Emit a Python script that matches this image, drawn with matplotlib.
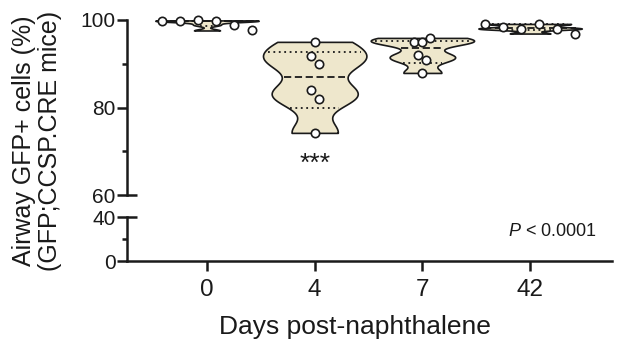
import numpy as np
import matplotlib
matplotlib.use("Agg")
import matplotlib.pyplot as plt
from matplotlib import cbook, mlab

plt.rcParams["font.family"] = ["Liberation Sans", "DejaVu Sans"]
plt.rcParams["mathtext.fontset"] = "custom"
plt.rcParams["mathtext.it"] = "Liberation Sans:italic"
plt.rcParams["mathtext.rm"] = "Liberation Sans"

# values, left-to-right within each group
days = ["0", "4", "7", "42"]
day0 = [99.8, 99.8, 99.9, 99.8, 98.9, 97.6]
day4 = [95.0, 91.8, 89.9, 84.0, 81.9, 74.2]
day7 = [95.0, 95.0, 95.9, 92.0, 90.9, 87.9]
day42 = [99.1, 98.3, 98.0, 99.1, 97.9, 96.9]
groups = [day0, day4, day7, day42]

FILL = "#EEE7CC"
INK = "#1a1a1a"
LW = 1.8
TICK = 7.2


def row_offsets(vals, ax, row_px=11, wide_px=18, tight_px=8):
    # prism-like point spreading: values within row_px pixels share a row
    to_py = lambda v: ax.transData.transform([(0, v)])[0, 1]
    px_per_x = ax.transData.transform([(1, 0)])[0, 0] - ax.transData.transform([(0, 0)])[0, 0]
    order = sorted(range(len(vals)), key=lambda i: -vals[i])
    rows = []
    for i in order:
        if rows and to_py(vals[rows[-1][0]]) - to_py(vals[i]) <= row_px:
            rows[-1].append(i)
        else:
            rows.append([i])
    offs = np.zeros(len(vals))
    for row in rows:
        row = sorted(row)
        step = wide_px if len(row) > 3 else tight_px
        for k, i in enumerate(row):
            offs[i] = (k - (len(row) - 1) / 2) * step / px_per_x
    return offs


fig = plt.figure(figsize=(6.17, 3.47), dpi=100)
L, W = 0.2058, 0.786
ax_top = fig.add_axes([L, 0.438, W, 0.5044])
ax_bot = fig.add_axes([L, 0.2478, W, 0.1268])

xlim = (-0.743, 3.76)
ax_top.set_xlim(*xlim)
ax_bot.set_xlim(*xlim)
ax_top.set_ylim(60, 100)
ax_bot.set_ylim(0, 40)

pos = np.arange(len(groups))
bw = 0.35
stats = cbook.violin_stats(groups, lambda X, coords: mlab.GaussianKDE(X, bw).evaluate(coords))
width = 0.96
parts = ax_top.violin(stats, positions=pos, widths=width, showmeans=False,
                      showextrema=False, showmedians=False)
for body in parts["bodies"]:
    body.set_facecolor(FILL)
    body.set_edgecolor(INK)
    body.set_linewidth(1.2)
    body.set_alpha(1)
    body.set_zorder(2)

for p, st, vals in zip(pos, stats, groups):
    half = 0.5 * width * st["vals"] / st["vals"].max()
    q1, med, q3 = np.percentile(vals, [25, 50, 75], method="weibull")
    for q, ls in [(q1, (0, (1, 2))), (med, (0, (4, 2))), (q3, (0, (1, 2)))]:
        hw = np.interp(q, st["coords"], half) * 0.92
        ax_top.plot([p - hw, p + hw], [q, q], color=INK, lw=1.3, ls=ls, zorder=3)

for p, vals in zip(pos, groups):
    offs = row_offsets(vals, ax_top)
    ax_top.scatter(p + offs, vals, s=36, facecolor="white", edgecolor=INK,
                   linewidth=1.2, zorder=4, clip_on=False)

ax_top.text(1, 67.2, "***", ha="center", va="center", fontsize=19, color=INK)
ax_bot.text(0.969, 0.66, "$P$ < 0.0001", transform=ax_bot.transAxes,
            ha="right", va="center", fontsize=13, color=INK)

# axes styling
for ax in (ax_top, ax_bot):
    for s in ("top", "right"):
        ax.spines[s].set_visible(False)
    ax.spines["left"].set_linewidth(LW)
    ax.spines["left"].set_color(INK)
    ax.tick_params(axis="y", which="major", length=TICK, width=LW, labelsize=15,
                   colors=INK, pad=1)
    ax.tick_params(axis="y", which="minor", length=TICK / 2, width=LW, colors=INK)
    ax.set_facecolor("none")

ax_top.spines["bottom"].set_visible(False)
ax_top.set_xticks([])
ax_top.set_yticks([60, 80, 100])
ax_top.set_yticks([70, 90], minor=True)

ax_bot.spines["bottom"].set_linewidth(LW)
ax_bot.spines["bottom"].set_color(INK)
ax_bot.set_yticks([0, 40])
ax_bot.set_yticks([20], minor=True)
ax_bot.set_xticks(pos)
ax_bot.set_xticklabels(days)
ax_bot.tick_params(axis="x", length=TICK, width=LW, labelsize=17.5, colors=INK, pad=6)

# axis-break caps: the ticks at 60 and 40 run across the spine
for tick in (ax_top.yaxis.get_major_ticks()[0], ax_bot.yaxis.get_major_ticks()[-1]):
    tick.tick1line.set_marker("_")
    tick.tick1line.set_markersize(2 * TICK)

fig.text(0.06, 0.594, "Airway GFP+ cells (%)\n(GFP;CCSP.CRE mice)", rotation=90,
         ha="center", va="center", multialignment="center", fontsize=18,
         linespacing=1.15, color=INK)
fig.text(0.575, 0.058, "Days post-naphthalene", ha="center", va="center",
         fontsize=19, color=INK)

fig.savefig("out.png", dpi=100)
